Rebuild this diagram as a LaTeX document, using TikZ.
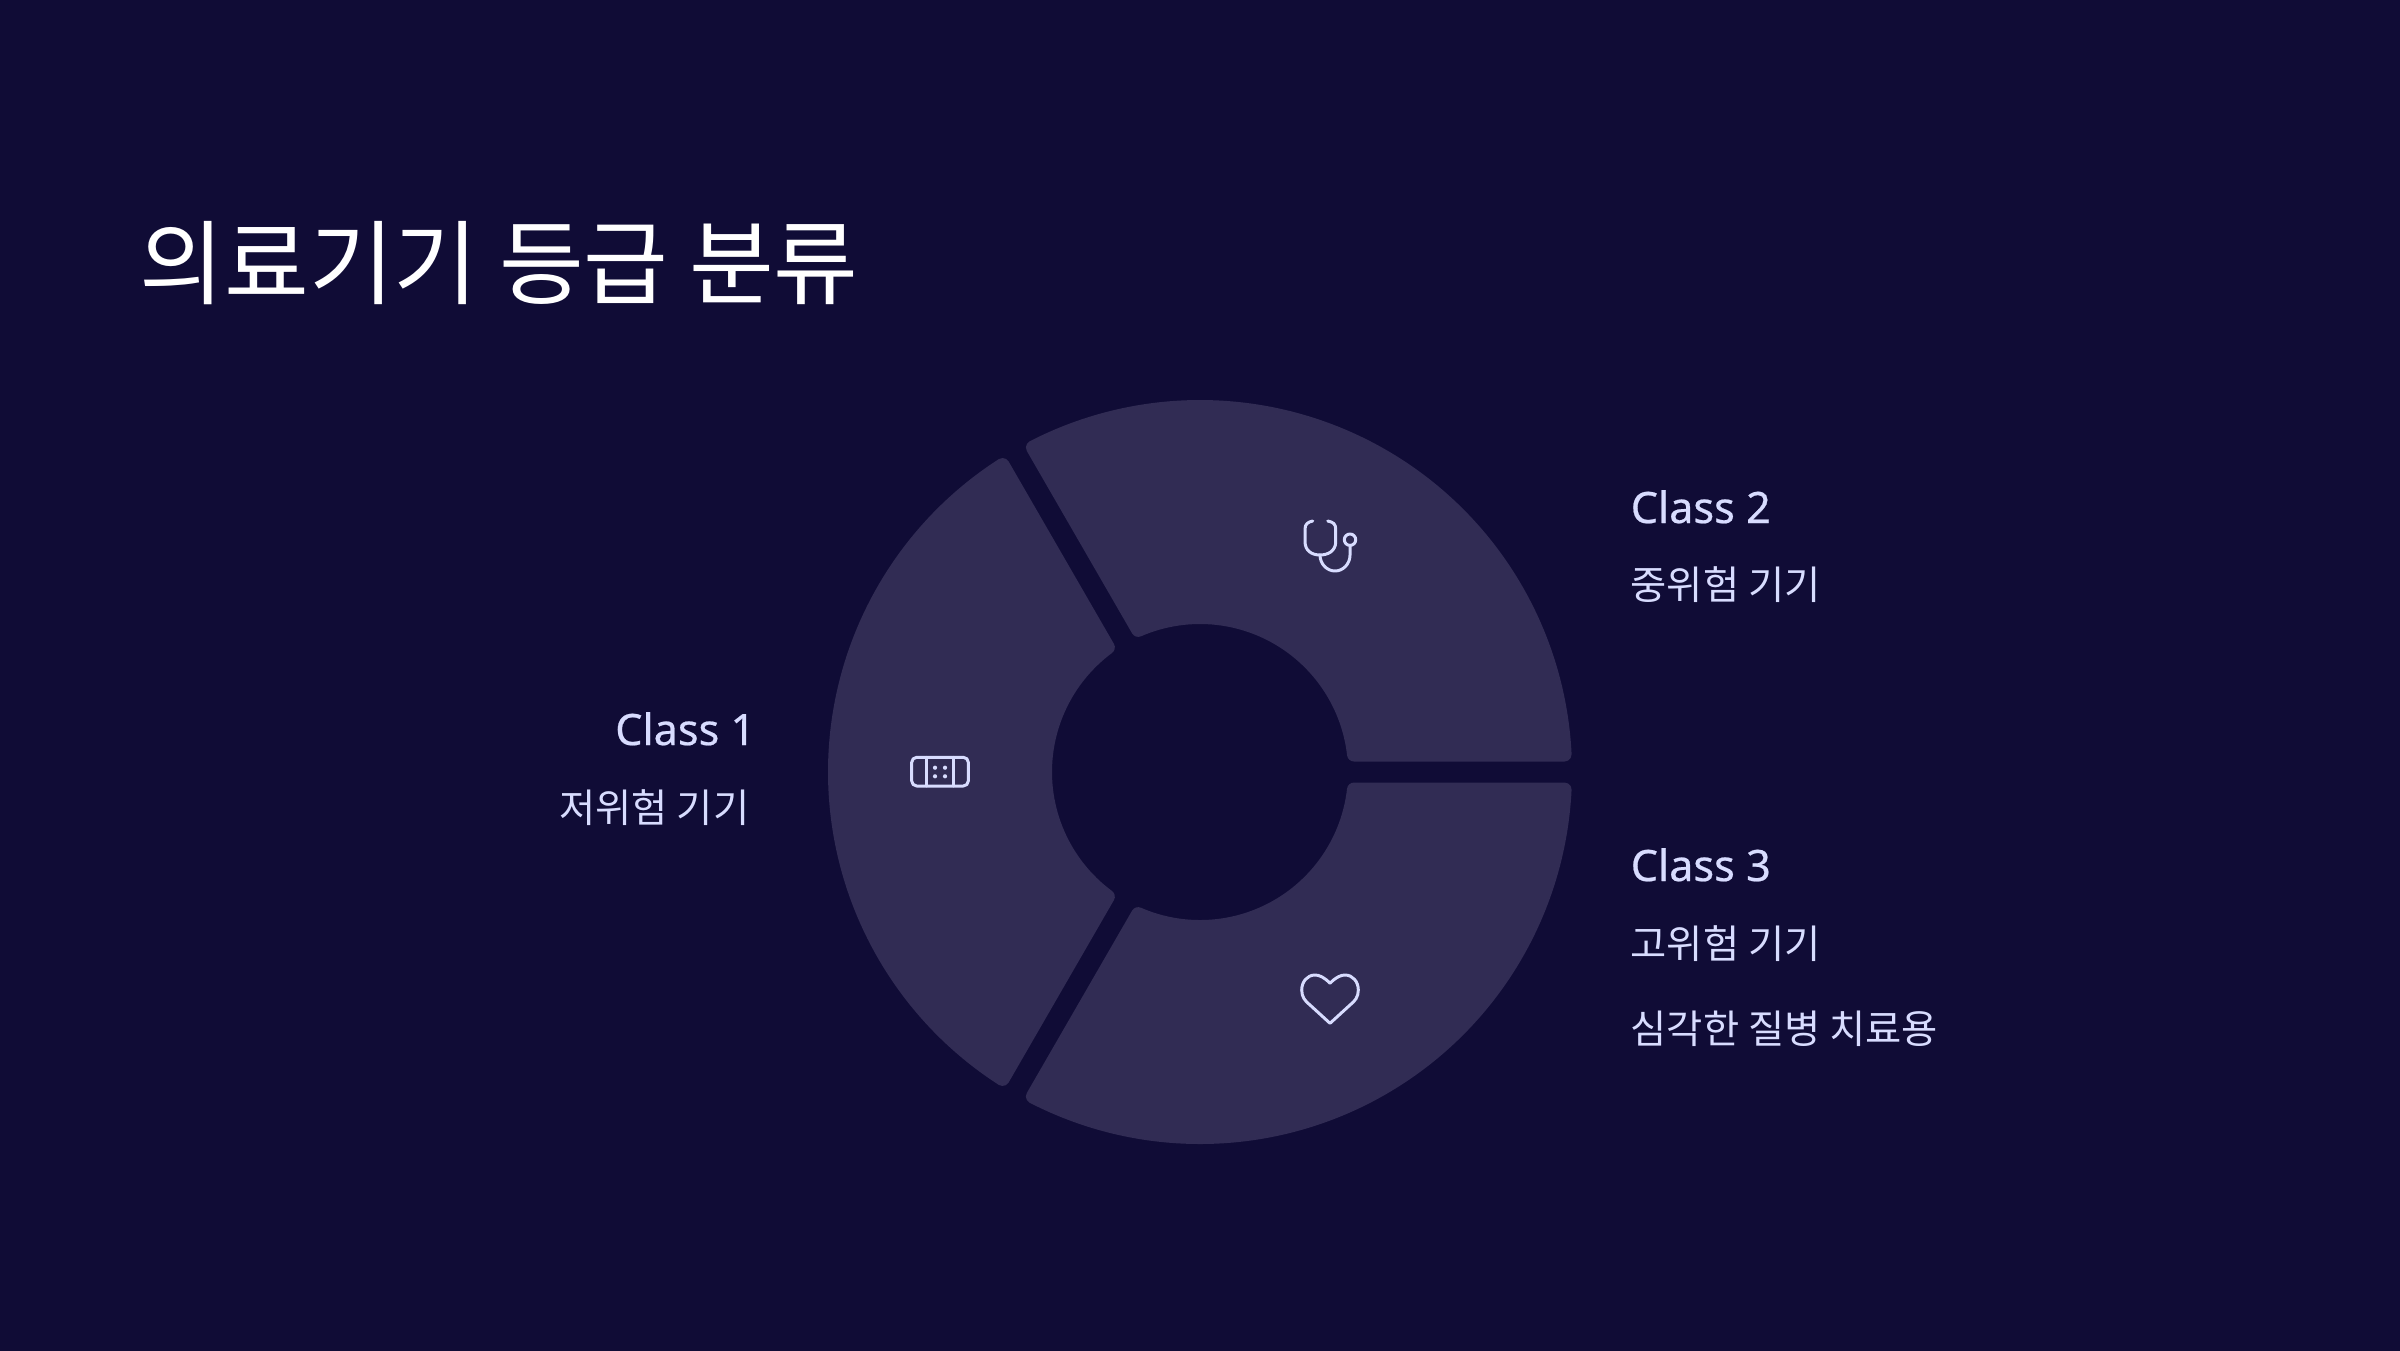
\documentclass[tikz,border=0pt]{standalone}
\usepackage{fontspec}
\setmainfont{Noto Sans CJK KR}
\newfontfamily\latinfont[RawFeature={embolden=0.5}]{Noto Sans}
\definecolor{bgdark}{HTML}{100C36}
\definecolor{segfill}{HTML}{312C54}
\definecolor{lavender}{HTML}{D8DCFF}
\tikzset{
  segment/.style={fill=segfill},
  iconline/.style={draw=lavender,line width=0.85pt,line cap=round,line join=round},
  icondot/.style={fill=lavender},
  heading/.style={text=white,font=\fontsize{26.2}{30}\selectfont},
  classname/.style={text=lavender,font=\latinfont\fontsize{12.3}{14}\selectfont},
  classtext/.style={text=lavender,font=\fontsize{11.2}{13}\selectfont}
}
\newcommand{\ringpart}{(1.5401,.105) -- (3.6458,.105)
  arc[start angle=-90,end angle=2.748,radius=.07]
  arc[start angle=2.748,end angle=117.252,radius=3.72]
  arc[start angle=117.252,end angle=210,radius=.07]
  -- ++(300:2.1057)
  arc[start angle=210,end angle=293.518,radius=.07]
  arc[start angle=113.518,end angle=6.482,radius=1.48]
  arc[start angle=186.482,end angle=270,radius=.07] -- cycle}
\begin{document}
\begin{tikzpicture}
  \useasboundingbox (0,0) rectangle (24,13.5);
  \fill[bgdark] (-.1,-.1) rectangle (24.1,13.6);
  \node[heading,anchor=base west,inner sep=0pt] (title) at (1.39,10.52) {의료기기 등급 분류};
  % ring
  \foreach \ang in {0,120,240}
    \fill[segment,shift={(12,5.78)},rotate=\ang] \ringpart;
  % stethoscope
  \draw[iconline] (13.127,8.29) .. controls (13.08,8.28) and (13.05,8.26) .. (13.05,8.21) -- (13.05,8.083)
    .. controls (13.05,7.99) and (13.12,7.95) .. (13.20,7.95)
    .. controls (13.28,7.95) and (13.357,7.99) .. (13.357,8.083) -- (13.357,8.21)
    .. controls (13.357,8.26) and (13.33,8.28) .. (13.277,8.29);
  \draw[iconline] (13.20,7.95) .. controls (13.20,7.86) and (13.27,7.79) .. (13.35,7.79)
    .. controls (13.43,7.79) and (13.50,7.86) .. (13.50,7.95) -- (13.50,8.046);
  \draw[iconline] (13.50,8.103) circle (.057);
  % bandage
  \draw[iconline,rounded corners=.05cm] (9.117,5.64) rectangle (9.683,5.927);
  \draw[iconline] (9.267,5.64) -- (9.267,5.927);
  \draw[iconline] (9.533,5.64) -- (9.533,5.927);
  \foreach \dotx in {9.35,9.45}
    \foreach \doty in {5.737,5.823}
      \fill[icondot] (\dotx,\doty) circle (.021);
  % heart
  \draw[iconline] (13.30,3.667) .. controls (13.24,3.73) and (13.19,3.75) .. (13.15,3.75)
    .. controls (13.07,3.75) and (13.017,3.68) .. (13.017,3.60)
    .. controls (13.017,3.53) and (13.05,3.49) .. (13.10,3.45) -- (13.30,3.267) -- (13.50,3.45)
    .. controls (13.55,3.49) and (13.583,3.53) .. (13.583,3.60)
    .. controls (13.583,3.68) and (13.53,3.75) .. (13.45,3.75)
    .. controls (13.41,3.75) and (13.36,3.73) .. (13.30,3.667) -- cycle;
  % labels
  \node[classname,anchor=base east,inner sep=0pt] (one) at (7.56,6.05) {Class 1};
  \node[classtext,anchor=base east,inner sep=0pt] (onetxt) at (7.50,5.28) {저위험 기기};
  \node[classname,anchor=base west,inner sep=0pt] (two) at (16.30,8.27) {Class 2};
  \node[classtext,anchor=base west,inner sep=0pt] (twotxt) at (16.30,7.51) {중위험 기기};
  \node[classname,anchor=base west,inner sep=0pt] (three) at (16.30,4.69) {Class 3};
  \node[classtext,anchor=base west,inner sep=0pt] (threetxt) at (16.30,3.92) {고위험 기기};
  \node[classtext,anchor=base west,inner sep=0pt] (threemore) at (16.30,3.07) {심각한 질병 치료용};
\end{tikzpicture}
\end{document}
